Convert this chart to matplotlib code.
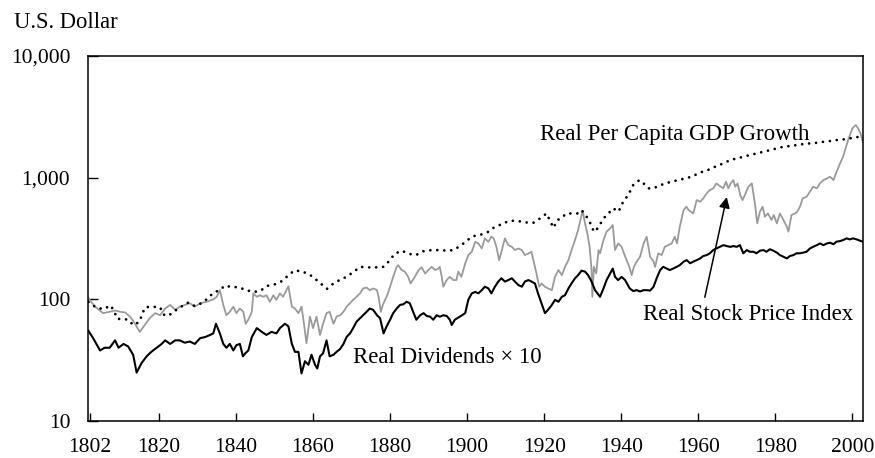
import matplotlib
matplotlib.use("Agg")
import matplotlib.pyplot as plt
from matplotlib.ticker import FuncFormatter, NullLocator

plt.rcParams['font.family'] = ['Liberation Serif', 'DejaVu Serif']

# Real per capita GDP growth (dotted)
gdp_years = [1801.7, 1803.6, 1805.5, 1807.5, 1808.4, 1809.2, 1810.6, 1812.0, 1813.3, 1814.9,
             1815.6, 1816.4, 1818.3, 1820.3, 1821.2, 1822.4, 1824.0, 1825.9, 1827.6, 1829.3,
             1831.1, 1832.7, 1834.1, 1835.7, 1837.2, 1838.8, 1840.7, 1842.6, 1844.7, 1846.4,
             1848.1, 1850.1, 1852.1, 1853.6, 1855.2, 1857.3, 1859.2, 1860.7, 1862.2, 1863.6,
             1865.3, 1867.2, 1868.7, 1870.6, 1872.3, 1874.3, 1876.1, 1878.3, 1880.0, 1881.1,
             1883.0, 1885.0, 1886.7, 1888.7, 1890.8, 1892.9, 1894.8, 1896.5, 1898.5, 1900.1,
             1901.6, 1903.2, 1904.0, 1905.5, 1907.2, 1908.1, 1909.3, 1911.2, 1913.3, 1915.0,
             1917.2, 1918.9, 1920.6, 1921.5, 1922.4, 1923.4, 1924.3, 1925.8, 1927.6, 1928.6,
             1929.7, 1931.0, 1932.0, 1932.9, 1933.7, 1934.5, 1935.8, 1937.1, 1938.1, 1938.8,
             1939.5, 1940.5, 1941.8, 1943.1, 1944.7, 1945.8, 1947.1, 1948.4, 1949.6, 1951.4,
             1953.1, 1954.8, 1956.6, 1958.3, 1960.0, 1961.7, 1963.0, 1964.7, 1966.5, 1968.3,
             1970.0, 1971.7, 1973.4, 1975.1, 1976.9, 1978.7, 1980.4, 1982.1, 1983.8, 1985.5,
             1987.2, 1989.0, 1990.8, 1992.5, 1994.2, 1995.9, 1997.6, 1999.3, 2001.1, 2002.5]
gdp_vals = [95, 86, 83, 89, 79, 69, 69, 68, 61.5, 65,
            75, 86, 87, 86, 75, 73, 80, 87.5, 94, 88,
            93, 102, 113, 119, 130, 126, 126, 119, 115, 118,
            129, 133, 142, 158, 173, 169, 159, 146, 133, 122,
            135, 146, 153, 169, 185, 183, 183, 185, 210, 236,
            251, 236, 231, 249, 254, 254, 251, 254, 279, 307,
            331, 337, 344, 359, 395, 403, 421, 443, 440, 429,
            426, 462, 508, 443, 387, 448, 462, 508, 508, 508,
            541, 478, 421, 359, 378, 415, 478, 525, 560, 525,
            542, 634, 719, 869, 955, 897, 817, 817, 853, 897,
            927, 955, 986, 1019, 1084, 1140, 1169, 1245, 1309, 1396,
            1439, 1486, 1535, 1581, 1633, 1687, 1742, 1795, 1820, 1854,
            1888, 1914, 1936, 1972, 2000, 2037, 2061, 2104, 2143, 2239]

# Real stock price index (gray)
stock_years = [1801.7, 1803.4, 1805.5, 1807.2, 1808.6, 1809.9, 1811.2, 1812.5, 1813.8, 1815.0,
               1816.3, 1817.6, 1819.0, 1820.3, 1821.6, 1822.9, 1824.2, 1825.4, 1826.7, 1828.0,
               1829.3, 1830.7, 1832.4, 1834.1, 1835.0, 1835.8, 1836.7, 1837.5, 1838.4, 1839.3,
               1840.1, 1841.0, 1841.9, 1842.5, 1843.2, 1844.1, 1844.5, 1845.4, 1846.2, 1847.1,
               1847.9, 1848.8, 1849.7, 1850.5, 1851.4, 1852.2, 1853.6, 1854.5, 1855.3, 1856.2,
               1857.0, 1857.5, 1858.3, 1859.2, 1860.0, 1860.9, 1861.8, 1862.6, 1863.5, 1864.3,
               1865.3, 1866.1, 1867.0, 1867.9, 1868.7, 1869.6, 1870.4, 1871.3, 1872.2, 1873.0,
               1873.9, 1874.7, 1875.6, 1876.6, 1877.0, 1877.6, 1878.1, 1879.1, 1880.0, 1880.8,
               1881.7, 1882.1, 1883.0, 1883.8, 1884.7, 1885.3, 1886.4, 1887.4, 1888.2, 1889.1,
               1889.9, 1890.8, 1891.7, 1892.5, 1892.9, 1893.4, 1893.8, 1894.7, 1895.5, 1896.4,
               1897.2, 1897.7, 1898.5, 1899.5, 1900.3, 1901.2, 1902.1, 1902.9, 1903.8, 1904.6,
               1905.5, 1906.3, 1906.9, 1907.6, 1908.3, 1908.9, 1909.8, 1910.7, 1911.6, 1912.4,
               1913.3, 1914.2, 1915.0, 1915.9, 1916.7, 1917.3, 1918.0, 1918.7, 1919.3, 1920.2,
               1921.0, 1922.0, 1922.8, 1923.7, 1924.6, 1925.4, 1926.3, 1927.1, 1928.0, 1928.8,
               1929.4, 1930.0, 1930.6, 1931.2, 1931.8, 1932.3, 1932.5, 1932.9, 1933.5, 1934.1,
               1934.5, 1935.4, 1936.2, 1937.1, 1937.8, 1938.4, 1939.2, 1940.1, 1940.7, 1941.4,
               1942.1, 1942.7, 1943.3, 1944.0, 1944.9, 1945.8, 1946.6, 1947.5, 1948.4, 1948.8,
               1949.6, 1950.5, 1951.3, 1952.2, 1953.1, 1953.9, 1954.5, 1955.2, 1956.2, 1956.9,
               1957.5, 1958.1, 1958.7, 1959.6, 1960.5, 1961.3, 1962.2, 1963.0, 1963.9, 1964.7,
               1965.6, 1966.5, 1967.2, 1967.8, 1968.4, 1969.1, 1969.6, 1970.2, 1970.9, 1971.5,
               1972.1, 1973.0, 1973.9, 1974.7, 1975.3, 1976.0, 1976.7, 1977.3, 1978.1, 1979.0,
               1979.6, 1980.4, 1981.2, 1982.1, 1983.0, 1983.4, 1984.2, 1985.1, 1985.7, 1986.4,
               1987.1, 1988.1, 1989.0, 1989.8, 1990.8, 1991.6, 1992.5, 1993.4, 1994.2, 1995.1,
               1995.9, 1996.8, 1997.6, 1998.5, 1999.2, 2000.0, 2000.9, 2001.5, 2002.1, 2002.7]
stock_vals = [102, 87, 77, 79, 81, 79, 78, 72, 63, 54,
              61.5, 70, 77, 74, 84, 90, 82, 87, 90, 93,
              87, 93, 95.5, 100, 105, 119, 90, 74, 79, 87,
              77, 84, 79, 63, 68, 79, 112, 105, 108, 105,
              108, 95.5, 108, 99, 112, 105, 128, 87, 84, 77,
              87, 68, 43.5, 72, 58, 72, 51, 63, 77, 79,
              63, 72, 74, 79, 87, 93, 99, 105, 112, 123,
              125, 119, 123, 119, 105, 79, 90, 105, 127, 153,
              185, 191, 174, 169, 153, 135, 153, 174, 183, 163,
              174, 185, 174, 179, 185, 153, 127, 144, 153, 144,
              144, 169, 153, 197, 231, 246, 297, 288, 262, 317,
              297, 327, 317, 270, 210, 246, 317, 279, 270, 254,
              262, 254, 231, 238, 246, 204, 163, 127, 135, 127,
              123, 119, 153, 174, 158, 185, 210, 254, 307, 371,
              448, 535, 421, 348, 270, 174, 105, 185, 163, 254,
              239, 307, 360, 383, 408, 254, 288, 270, 239, 210,
              185, 158, 185, 204, 224, 288, 327, 224, 204, 185,
              239, 231, 270, 279, 288, 327, 288, 395, 542, 577,
              542, 525, 508, 655, 634, 676, 743, 791, 817, 897,
              853, 817, 927, 817, 897, 955, 843, 897, 719, 655,
              719, 843, 897, 615, 421, 525, 577, 478, 508, 449,
              493, 421, 508, 449, 395, 360, 493, 508, 525, 577,
              676, 697, 766, 843, 817, 897, 955, 986, 1019, 955,
              1119, 1309, 1486, 1854, 2168, 2541, 2704, 2541, 2312, 1972]

# Real dividends x 10 (black)
div_years = [1801.7, 1802.9, 1804.7, 1805.9, 1807.2, 1808.6, 1809.5, 1810.8, 1812.0, 1813.3,
             1814.2, 1815.5, 1816.8, 1818.0, 1819.4, 1820.7, 1821.6, 1822.9, 1824.2, 1825.4,
             1826.7, 1828.0, 1829.3, 1830.7, 1832.0, 1833.3, 1834.1, 1834.8, 1835.8, 1836.7,
             1837.5, 1838.4, 1839.3, 1840.1, 1841.0, 1841.8, 1842.4, 1843.2, 1844.1, 1845.4,
             1846.7, 1847.9, 1849.2, 1850.5, 1851.4, 1852.7, 1853.6, 1854.5, 1855.3, 1856.2,
             1857.0, 1857.9, 1858.8, 1859.6, 1860.5, 1861.1, 1861.8, 1862.6, 1863.5, 1864.3,
             1865.3, 1866.1, 1867.0, 1867.9, 1868.7, 1869.6, 1870.4, 1871.3, 1872.2, 1873.0,
             1873.9, 1874.7, 1875.6, 1876.6, 1877.4, 1878.3, 1879.1, 1880.0, 1880.8, 1881.7,
             1882.6, 1883.4, 1884.3, 1885.1, 1886.0, 1886.8, 1887.8, 1888.7, 1889.5, 1890.4,
             1891.2, 1892.1, 1892.9, 1893.8, 1894.7, 1895.5, 1896.0, 1896.8, 1898.1, 1899.5,
             1900.3, 1901.2, 1902.1, 1902.9, 1903.8, 1904.6, 1905.5, 1906.3, 1907.2, 1908.1,
             1908.9, 1909.8, 1910.7, 1911.6, 1912.4, 1913.3, 1914.2, 1915.0, 1915.9, 1916.7,
             1917.6, 1918.4, 1919.3, 1920.2, 1921.0, 1922.0, 1922.8, 1923.7, 1924.6, 1925.4,
             1926.3, 1927.1, 1928.0, 1928.8, 1929.7, 1930.6, 1931.4, 1932.3, 1933.2, 1934.5,
             1935.4, 1936.2, 1937.1, 1937.8, 1938.4, 1939.2, 1940.1, 1941.0, 1942.2, 1943.1,
             1944.0, 1944.9, 1945.8, 1946.6, 1947.5, 1948.4, 1949.2, 1950.1, 1950.9, 1951.8,
             1952.6, 1953.5, 1954.4, 1955.2, 1956.2, 1957.0, 1957.9, 1958.7, 1959.6, 1960.5,
             1961.3, 1962.2, 1963.0, 1963.9, 1964.7, 1965.6, 1966.5, 1967.4, 1968.3, 1969.1,
             1970.0, 1970.8, 1971.7, 1972.6, 1973.4, 1974.3, 1975.1, 1976.0, 1976.9, 1977.7,
             1978.6, 1979.5, 1980.4, 1981.2, 1982.1, 1983.0, 1983.8, 1984.7, 1985.5, 1986.4,
             1987.2, 1988.1, 1989.0, 1989.8, 1990.8, 1991.6, 1992.5, 1993.4, 1994.2, 1995.1,
             1995.9, 1996.8, 1997.6, 1998.5, 1999.3, 2000.2, 2001.1, 2002.0, 2002.7]
div_vals = [55, 48, 38, 40, 40, 46, 40, 43, 41, 35,
            25, 30, 34, 37, 40, 43, 46, 43, 46, 46,
            44, 45, 43, 48, 49, 51, 52.5, 63, 52.5, 43,
            40, 43, 38, 42, 43, 34, 36, 38, 49, 58,
            54, 51, 54, 52.5, 58, 63, 60, 43, 37, 37,
            24.6, 31, 29, 35, 29, 27, 34, 36, 46, 34,
            35, 37, 39, 43, 49, 52.5, 58, 65.5, 70, 74,
            79, 84, 82, 74, 70, 52.5, 60, 68, 77, 84,
            90, 91, 95.5, 93, 79, 68, 74, 77, 73, 72,
            68, 74, 72, 74, 73, 68, 61.5, 68, 72, 77,
            99, 112, 115, 112, 119, 127, 123, 112, 127, 140,
            149, 140, 144, 149, 140, 131, 127, 140, 144, 140,
            135, 112, 93, 77, 82, 90, 99, 95.5, 105, 108,
            123, 135, 149, 158, 172, 169, 158, 140, 119, 105,
            123, 144, 163, 179, 153, 144, 153, 144, 123, 117,
            119, 116, 119, 119, 118, 127, 149, 174, 185, 179,
            174, 179, 185, 191, 204, 210, 198, 204, 210, 217,
            227, 231, 239, 254, 262, 270, 279, 274, 270, 274,
            270, 279, 239, 254, 246, 246, 239, 251, 254, 246,
            258, 251, 242, 231, 224, 217, 227, 231, 239, 239,
            242, 246, 262, 270, 279, 288, 279, 288, 292, 284,
            298, 301, 307, 317, 311, 317, 311, 303, 298]

xtick_years = [1802, 1820, 1840, 1860, 1880, 1900, 1920, 1940, 1960, 1980, 2000]
ytick_vals = [10, 100, 1000, 10000]

fig = plt.figure(figsize=(8.75, 4.58), dpi=100)
ax = fig.add_axes([0.1009, 0.0808, 0.8851, 0.7969])

ax.plot(stock_years, stock_vals, color='#9a9a9a', lw=1.3)
ax.plot(div_years, div_vals, color='black', lw=1.5)
ax.plot(gdp_years, gdp_vals, color='black', lw=2.0, linestyle=(0, (0.01, 2.5)),
        dash_capstyle='round')

ax.set_yscale('log')
ax.set_ylim(10, 10000)
ax.set_xlim(1801.65, 2002.7)
ax.set_yticks(ytick_vals)
ax.yaxis.set_major_formatter(FuncFormatter(lambda v, p: '{:,.0f}'.format(v)))
ax.yaxis.set_minor_locator(NullLocator())
ax.set_xticks(xtick_years)
ax.tick_params(axis='y', direction='in', length=7, width=1, pad=13, labelsize=15.5)
ax.tick_params(axis='x', direction='in', length=6, width=1, pad=12, labelsize=15.5)
for s in ax.spines.values():
    s.set_linewidth(1.1)

fig.text(0.016, 0.939, 'U.S. Dollar', fontsize=16.3, ha='left', va='baseline')

ax.text(1918.9, 2037, 'Real Per Capita GDP Growth', fontsize=16.5, ha='left', va='baseline')
ax.text(1945.6, 67.6, 'Real Stock Price Index', fontsize=16.5, ha='left', va='baseline')
ax.text(1870.4, 30, 'Real Dividends \u00d7 10', fontsize=16.5, ha='left', va='baseline')
ax.annotate('', xy=(1967.4, 693), xytext=(1961.7, 104),
            arrowprops=dict(arrowstyle='-|>', color='black', lw=1.1,
                            mutation_scale=16, shrinkA=0, shrinkB=0))

fig.savefig('out.png', dpi=100)
